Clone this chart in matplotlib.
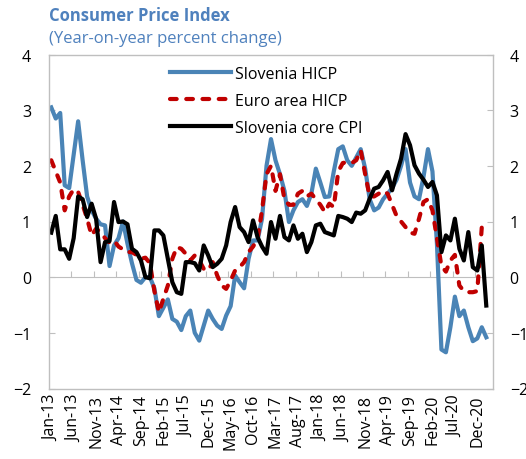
import matplotlib
matplotlib.use("Agg")
import matplotlib.pyplot as plt
import numpy as np

plt.rcParams['font.family'] = ['Open Sans', 'DejaVu Sans']

# monthly data, Jan-13 .. Feb-21
slovenia_hicp = [3.05, 2.85, 2.95, 1.65, 1.6, 2.2, 2.8, 2.1, 1.45, 1.2,
                 1.05, 0.95, 0.93, 0.2, 0.57, 0.7, 1.0, 0.6, 0.25, -0.05,
                 -0.1, 0.0, 0.0, -0.2, -0.7, -0.55, -0.4, -0.75, -0.8, -0.95,
                 -0.7, -0.6, -1.0, -1.14, -0.87, -0.6, -0.75, -0.87, -0.93, -0.69,
                 -0.52, 0.03, -0.09, -0.2, 0.33, 0.66, 0.66, 1.05, 2.0, 2.48,
                 2.1, 1.85, 1.55, 0.99, 1.2, 1.35, 1.4, 1.28, 1.5, 1.95,
                 1.7, 1.44, 1.45, 1.9, 2.3, 2.35, 2.1, 2.0, 2.15, 2.3,
                 1.95, 1.4, 1.2, 1.25, 1.4, 1.5, 1.6, 1.75, 2.0, 2.3,
                 1.7, 1.45, 1.4, 1.8, 2.3, 1.9, 0.6, -1.3, -1.35, -0.9,
                 -0.35, -0.7, -0.6, -0.9, -1.15, -1.1, -0.9, -1.08]

euro_hicp = [2.1, 1.9, 1.7, 1.2, 1.45, 1.58, 1.53, 1.3, 1.05, 0.75,
             0.87, 0.81, 0.7, 0.62, 0.66, 0.55, 0.5, 0.45, 0.45, 0.4,
             0.33, 0.35, 0.25, -0.25, -0.63, -0.39, -0.15, 0.33, 0.54, 0.51,
             0.42, 0.3, 0.39, 0.3, 0.15, 0.12, 0.27, 0.03, -0.15, -0.21,
             -0.06, 0.12, 0.18, 0.27, 0.45, 0.55, 0.69, 1.2, 1.85, 2.0,
             1.55, 1.85, 1.4, 1.3, 1.3, 1.5, 1.55, 1.45, 1.5, 1.4,
             1.3, 1.17, 1.32, 1.26, 1.9, 2.05, 2.07, 2.05, 2.1, 2.28,
             1.85, 1.45, 1.45, 1.5, 1.55, 1.5, 1.3, 1.1, 1.0, 0.9,
             0.8, 0.78, 1.05, 1.35, 1.4, 1.2, 0.7, 0.2, 0.1, 0.3,
             0.4, -0.15, -0.25, -0.27, -0.27, -0.25, 0.9, 0.95]

slovenia_core = [0.8, 1.1, 0.5, 0.5, 0.33, 0.7, 1.45, 1.4, 1.08, 1.32,
                 1.05, 0.27, 0.63, 0.65, 1.35, 0.99, 1.0, 0.95, 0.51, 0.45,
                 0.3, 0.0, -0.02, 0.84, 0.84, 0.75, 0.33, -0.09, -0.27, -0.3,
                 0.27, 0.27, 0.25, 0.12, 0.57, 0.39, 0.18, 0.24, 0.33, 0.57,
                 0.99, 1.26, 0.9, 0.81, 0.63, 1.02, 0.72, 0.55, 0.42, 0.99,
                 0.69, 1.1, 0.72, 0.66, 0.93, 0.69, 0.78, 0.45, 0.63, 0.93,
                 0.96, 0.81, 0.78, 0.75, 1.1, 1.08, 1.05, 0.99, 1.16, 1.14,
                 1.2, 1.41, 1.59, 1.62, 1.74, 1.89, 1.56, 1.86, 2.13, 2.57,
                 2.37, 2.01, 1.86, 1.75, 1.62, 1.71, 1.47, 0.45, 0.75, 0.66,
                 1.05, 0.51, 0.3, 0.81, 0.18, 0.12, 0.57, -0.51]

tick_labels = ["Jan-13", "Jun-13", "Nov-13", "Apr-14", "Sep-14", "Feb-15",
               "Jul-15", "Dec-15", "May-16", "Oct-16", "Mar-17", "Aug-17",
               "Jan-18", "Jun-18", "Nov-18", "Apr-19", "Sep-19", "Feb-20",
               "Jul-20", "Dec-20"]

BLUE = "#4A84B6"
RED = "#C00000"
GRAY = "#BFBFBF"
TITLE = "#4F81BD"
FS = 11.5

fig = plt.figure(figsize=(5.26, 4.6), dpi=100)
ax = fig.add_axes([49 / 526, (460 - 389.5) / 460, 444 / 526, 334 / 460])

x = np.arange(len(slovenia_hicp))
ax.plot(x, slovenia_hicp, color=BLUE, lw=3, solid_joinstyle="round", label="Slovenia HICP")
ax.plot(x, euro_hicp, color=RED, lw=3, dashes=(1.6, 2.3), dash_capstyle="round",
        label="Euro area HICP")
ax.plot(x, slovenia_core, color="black", lw=3, solid_joinstyle="round", label="Slovenia core CPI")

ymin, ymax = -2, 4
ax.set_xlim(-0.5, len(x) + 0.5)
ax.set_ylim(ymin, ymax)

for s in ax.spines.values():
    s.set_color(GRAY)
    s.set_linewidth(1)

ax.set_xticks(x[::5])
ax.set_xticklabels(tick_labels, rotation=90)
ax.tick_params(axis="x", length=0, pad=4, labelsize=FS)
ax.set_yticks(range(ymin, ymax + 1))
ax.tick_params(axis="y", direction="in", length=4, color=GRAY, pad=13, labelsize=FS)

# right-hand axis with the same scale
ax2 = ax.twinx()
ax2.set_ylim(ymin, ymax)
ax2.set_yticks(range(ymin, ymax + 1))
ax2.tick_params(axis="y", direction="in", length=4, color=GRAY, pad=12, labelsize=FS)
for s in ax2.spines.values():
    s.set_visible(False)

# category axis crossing at zero
sec = ax.secondary_xaxis((0 - ymin) / (ymax - ymin))
sec.set_xticks(np.arange(4.5, len(x) - 1, 5))
sec.tick_params(direction="in", length=4, color=GRAY, labelbottom=False, labeltop=False)
for s in sec.spines.values():
    s.set_color(GRAY)

ax.legend(loc="upper left", bbox_to_anchor=((170 - 49) / 444, (389.5 - 67) / 334),
          frameon=False, fontsize=FS, handlelength=3.8, handletextpad=0.25,
          borderpad=0, borderaxespad=0, labelspacing=0.68)

fig.text(49 / 526, 1 - 16 / 460, "Consumer Price Index", color=TITLE,
         fontsize=12, weight="bold", va="center")
fig.text(49 / 526, 1 - 39 / 460, "(Year-on-year percent change)", color=TITLE,
         fontsize=12, va="center")

fig.savefig("out.png", dpi=100)
